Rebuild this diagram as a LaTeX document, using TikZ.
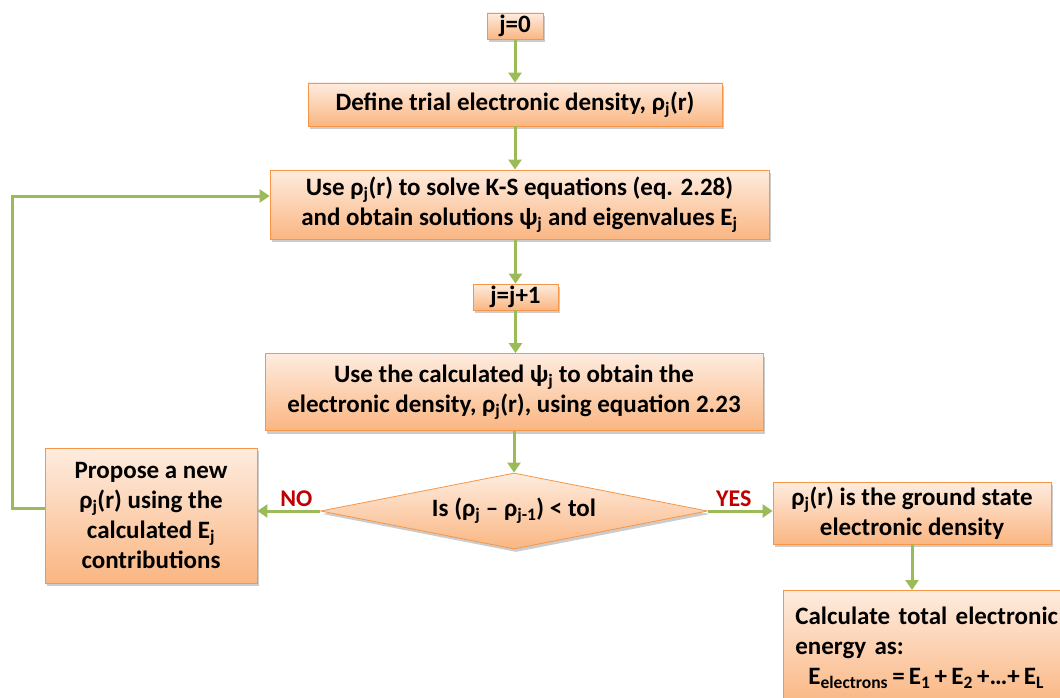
\documentclass[tikz,border=0pt]{standalone}
\usepackage{fontspec}
\setmainfont{Carlito}
\usetikzlibrary{arrows.meta,shapes.geometric,shadows}
\definecolor{PeachTop}{HTML}{FEECDF}
\definecolor{PeachBottom}{HTML}{FAB682}
\definecolor{PeachEdge}{HTML}{F79646}
\definecolor{LeafGreen}{HTML}{9BBB59}
\definecolor{AnswerRed}{HTML}{C00000}
\newcommand{\sbs}[1]{\textsubscript{#1}}
\tikzset{
  stepbox/.style={draw=PeachEdge, line width=0.8pt, top color=PeachTop, bottom color=PeachBottom,
    drop shadow={shadow xshift=2pt, shadow yshift=-3pt, opacity=0.2, fill=black},
    inner sep=0, align=center, font=\fontsize{25}{30}\selectfont\bfseries},
  flow/.style={draw=LeafGreen, line width=3pt, -{Triangle[length=10pt,width=13pt]}},
  answer/.style={text=AnswerRed, font=\fontsize{24}{29}\selectfont\bfseries}
}

\begin{document}
\begin{tikzpicture}[x=1pt, y=-1pt]
    \useasboundingbox (0,0) rectangle (1060,698);
    \clip (0,0) rectangle (1060,698);
    \node[stepbox, minimum width=56pt, minimum height=26pt] (start) at (515,26) {j=0};
    \node[stepbox, minimum width=414pt, minimum height=43pt] (trial) at (515,104.5) {Define trial electronic density, ρ\sbs{j}(r)};
    \node[stepbox, minimum width=499pt, minimum height=69pt] (solve) at (519.5,204.5) {Use ρ\sbs{j}(r) to solve K-S equations (eq. 2.28)\\and obtain solutions ψ\sbs{j} and eigenvalues E\sbs{j}};
    \node[stepbox, minimum width=85pt, minimum height=26pt] (next) at (515.5,297) {j=j+1};
    \node[stepbox, minimum width=498pt, minimum height=77pt] (density) at (514,392) {Use the calculated ψ\sbs{j} to obtain the\\electronic density, ρ\sbs{j}(r), using equation 2.23};
    \node[stepbox, diamond, aspect=5.1, minimum width=387pt, minimum height=76pt] (test) at (514,511) {Is (ρ\sbs{j} – ρ\sbs{j-1}) < tol};
    \node[stepbox, minimum width=212pt, minimum height=135pt] (propose) at (151,515.5) {Propose a new\\ρ\sbs{j}(r) using the\\calculated E\sbs{j}\\contributions};
    \node[stepbox, minimum width=278pt, minimum height=62pt] (ground) at (912,513) {ρ\sbs{j}(r) is the ground state\\electronic density};
    \node[stepbox, anchor=north west, minimum width=314pt, minimum height=115pt, text width=290pt, align=left] (energy) at (783,590) {Calculate total electronic\\energy as:\\\hspace*{13pt}E\sbs{electrons}\,=\,E\sbs{1}\,+\,E\sbs{2}\,+…+\,E\sbs{L}};
    % main column
    \draw[flow] (start) -- (trial);
    \draw[flow] (trial.south) -- (trial.south |- solve.north);
    \draw[flow] (next.south |- solve.south) -- (next);
    \draw[flow] (next.south) -- (next.south |- density.north);
    \draw[flow] (density.south) -- (test.north);
    % branches
    \draw[flow] (test.west) -- (test.west -| propose.east) node[answer, pos=0.38, above] {NO};
    \draw[flow] (test.east) -- (test.east -| ground.west) node[answer, pos=0.4, above] {YES};
    \draw[flow] (ground.south) -- (ground.south |- energy.north);
    \coordinate (back) at (12,508);
    \draw[flow] ([yshift=7.5pt]propose.west) -- (back) |- ([yshift=8.5pt]solve.west);
  \end{tikzpicture}
\end{document}
